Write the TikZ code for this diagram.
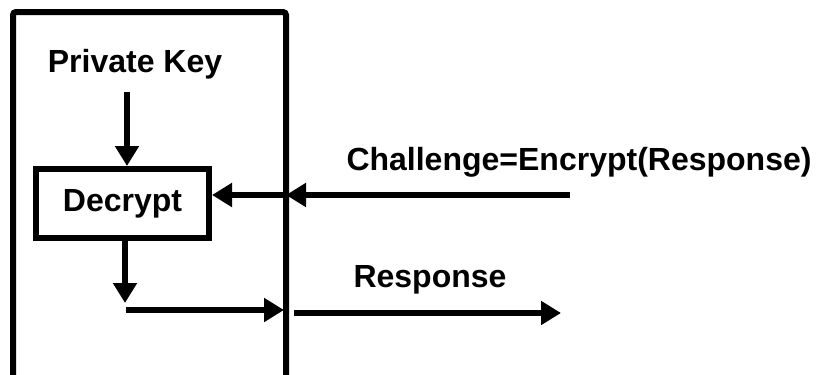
\documentclass[tikz,border=0pt]{standalone}
\usepackage{fontspec}
\setmainfont{Liberation Sans}
\usetikzlibrary{arrows.meta}
\begin{document}
\begin{tikzpicture}[x=1pt,y=-1pt,
  lbl/.style={font=\fontsize{32}{38}\selectfont\bfseries, inner sep=0pt},
  arr/.style={line width=5.5pt, -{Triangle[length=20pt,width=23pt]}},
  frame/.style={line width=6pt, rounded corners=3pt},
  procbox/.style={draw, line width=6pt, minimum width=173pt, minimum height=69pt,
    inner sep=0pt, font=\fontsize{32}{38}\selectfont\bfseries}]
  \useasboundingbox (0,0) rectangle (817,375);
  % device outline, open at the bottom
  \draw[frame] (13,390) -- (13,12) -- (286,12) -- (286,390);
  % labels
  \node[lbl, anchor=base] (pk) at (135,72) {Private Key};
  \node[lbl, anchor=base] (challenge) at (579,170) {Challenge=Encrypt(Response)};
  \node[lbl, anchor=base] (response) at (430,287) {Response};
  % decryption block
  \node[procbox] (decrypt) at (122.5,203.5) {Decrypt};
  % key into the block
  \coordinate (pkout) at (127,92);
  \draw[arr] (pkout) -- (pkout |- decrypt.north);
  % challenge coming in from outside
  \coordinate (cin) at (570,195);
  \coordinate (cwall) at (286,195);
  \draw[arr] (cin) -- (cwall);
  \draw[arr] (cwall) -- (cwall -| decrypt.east);
  % decrypted response going out
  \coordinate (dout) at (125,238);
  \coordinate (dend) at (125,303);
  \draw[arr] (dout) -- (dend);
  \coordinate (rin) at (126,310);
  \coordinate (rwall) at (284,310);
  \draw[arr] (rin) -- (rwall);
  \coordinate (rout) at (294,313);
  \coordinate (rfar) at (561,313);
  \draw[arr] (rout) -- (rfar);
\end{tikzpicture}
\end{document}
